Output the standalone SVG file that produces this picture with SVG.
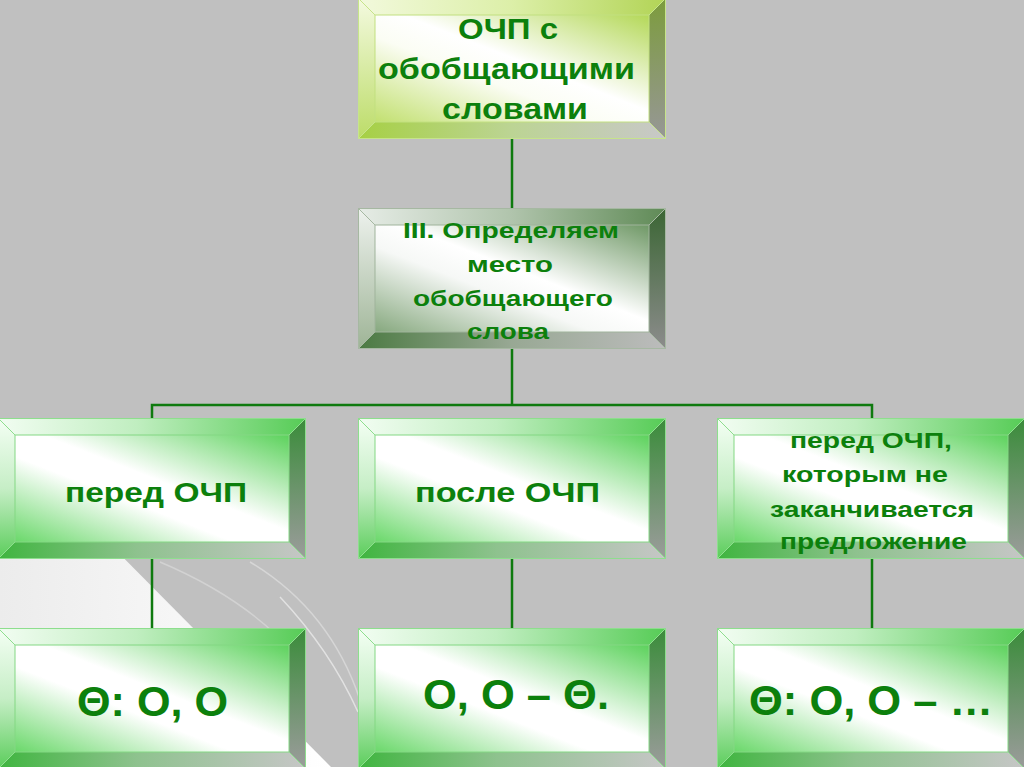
<svg xmlns="http://www.w3.org/2000/svg" xmlns:xlink="http://www.w3.org/1999/xlink" width="1024" height="767" viewBox="0 0 1024 767">
<style>
  .t { font-family: "Liberation Sans", Arial, sans-serif; font-weight: bold; fill: #0c800c; }
  .conn { stroke: #0f7a0f; stroke-width: 2.5; fill: none; }
</style>
<defs>
  <!-- green theme -->
  <linearGradient id="gT" x1="0" y1="0" x2="1" y2="0"><stop offset="0" stop-color="#f2fdf2"/><stop offset="0.45" stop-color="#c0eec0"/><stop offset="1" stop-color="#56cc56"/></linearGradient>
  <linearGradient id="gL" x1="0" y1="0" x2="0" y2="1"><stop offset="0" stop-color="#f4fff4"/><stop offset="0.5" stop-color="#c6eec6"/><stop offset="1" stop-color="#5acd5a"/></linearGradient>
  <linearGradient id="gR" x1="0" y1="0" x2="0" y2="1"><stop offset="0" stop-color="#3a8c3a"/><stop offset="1" stop-color="#9c9c9c"/></linearGradient>
  <linearGradient id="gB" x1="0" y1="0" x2="1" y2="0"><stop offset="0" stop-color="#3fb53f"/><stop offset="0.45" stop-color="#8ec28e"/><stop offset="1" stop-color="#c6c6c6"/></linearGradient>
  <linearGradient id="gF" x1="1" y1="0" x2="0" y2="1"><stop offset="0" stop-color="#5cd25c"/><stop offset="0.45" stop-color="#ffffff"/><stop offset="0.6" stop-color="#ffffff"/><stop offset="1" stop-color="#6ad86a"/></linearGradient>
  <!-- yellow-green theme -->
  <linearGradient id="yT" x1="0" y1="0" x2="1" y2="0"><stop offset="0" stop-color="#f2f9dc"/><stop offset="0.5" stop-color="#dcefa8"/><stop offset="1" stop-color="#b2d456"/></linearGradient>
  <linearGradient id="yL" x1="0" y1="0" x2="0" y2="1"><stop offset="0" stop-color="#f4fae0"/><stop offset="1" stop-color="#bcdc68"/></linearGradient>
  <linearGradient id="yR" x1="0" y1="0" x2="0" y2="1"><stop offset="0" stop-color="#7c9c3c"/><stop offset="1" stop-color="#979797"/></linearGradient>
  <linearGradient id="yB" x1="0" y1="0" x2="1" y2="0"><stop offset="0" stop-color="#a6d044"/><stop offset="0.5" stop-color="#bcd494"/><stop offset="1" stop-color="#c8c8c8"/></linearGradient>
  <linearGradient id="yF" x1="1" y1="0" x2="0" y2="1"><stop offset="0" stop-color="#b4d858"/><stop offset="0.45" stop-color="#ffffff"/><stop offset="0.6" stop-color="#fbfdf4"/><stop offset="1" stop-color="#c2e070"/></linearGradient>
  <!-- grey-green theme -->
  <linearGradient id="sT" x1="0" y1="0" x2="1" y2="0"><stop offset="0" stop-color="#e6ece6"/><stop offset="0.5" stop-color="#b0c4ac"/><stop offset="1" stop-color="#5f8a56"/></linearGradient>
  <linearGradient id="sL" x1="0" y1="0" x2="0" y2="1"><stop offset="0" stop-color="#eef2ee"/><stop offset="1" stop-color="#9eb496"/></linearGradient>
  <linearGradient id="sR" x1="0" y1="0" x2="0" y2="1"><stop offset="0" stop-color="#3b6634"/><stop offset="1" stop-color="#8c8c8c"/></linearGradient>
  <linearGradient id="sB" x1="0" y1="0" x2="1" y2="0"><stop offset="0" stop-color="#4b7a42"/><stop offset="0.5" stop-color="#98a894"/><stop offset="1" stop-color="#bcbcbc"/></linearGradient>
  <linearGradient id="sF" x1="1" y1="0" x2="0" y2="1"><stop offset="0" stop-color="#6f9866"/><stop offset="0.45" stop-color="#ffffff"/><stop offset="0.6" stop-color="#f6f8f6"/><stop offset="1" stop-color="#86a87e"/></linearGradient>

  <g id="boxG">
    <polygon points="0,0 308,0 291,17 17,17" fill="url(#gT)"/>
    <polygon points="0,0 17,17 17,124 0,141" fill="url(#gL)"/>
    <polygon points="308,0 308,141 291,124 291,17" fill="url(#gR)"/>
    <polygon points="0,141 17,124 291,124 308,141" fill="url(#gB)"/>
    <rect x="17" y="17" width="274" height="107" fill="url(#gF)"/>
    <rect x="0.5" y="0.5" width="307" height="140" fill="none" stroke="#8ede8e" stroke-width="1"/>
    <rect x="17" y="17" width="274" height="107" fill="none" stroke="#84d884" stroke-width="1"/>
    <path d="M0.5,0.5 L17,17 M307.5,0.5 L291,17 M0.5,140.5 L17,124 M307.5,140.5 L291,124" stroke="#8ede8e" stroke-width="1"/>
  </g>
  <g id="boxY">
    <polygon points="0,0 308,0 291,17 17,17" fill="url(#yT)"/>
    <polygon points="0,0 17,17 17,124 0,141" fill="url(#yL)"/>
    <polygon points="308,0 308,141 291,124 291,17" fill="url(#yR)"/>
    <polygon points="0,141 17,124 291,124 308,141" fill="url(#yB)"/>
    <rect x="17" y="17" width="274" height="107" fill="url(#yF)"/>
    <rect x="0.5" y="0.5" width="307" height="140" fill="none" stroke="#c6e48a" stroke-width="1"/>
    <rect x="17" y="17" width="274" height="107" fill="none" stroke="#c2e080" stroke-width="1"/>
    <path d="M0.5,0.5 L17,17 M307.5,0.5 L291,17 M0.5,140.5 L17,124 M307.5,140.5 L291,124" stroke="#c6e48a" stroke-width="1"/>
  </g>
  <g id="boxS">
    <polygon points="0,0 308,0 291,17 17,17" fill="url(#sT)"/>
    <polygon points="0,0 17,17 17,124 0,141" fill="url(#sL)"/>
    <polygon points="308,0 308,141 291,124 291,17" fill="url(#sR)"/>
    <polygon points="0,141 17,124 291,124 308,141" fill="url(#sB)"/>
    <rect x="17" y="17" width="274" height="107" fill="url(#sF)"/>
    <rect x="0.5" y="0.5" width="307" height="140" fill="none" stroke="#a6b8a2" stroke-width="1"/>
    <rect x="17" y="17" width="274" height="107" fill="none" stroke="#a0b49c" stroke-width="1"/>
    <path d="M0.5,0.5 L17,17 M307.5,0.5 L291,17 M0.5,140.5 L17,124 M307.5,140.5 L291,124" stroke="#a6b8a2" stroke-width="1"/>
  </g>
  <linearGradient id="bgW" x1="0" y1="0" x2="1" y2="0"><stop offset="0" stop-color="#ececec"/><stop offset="1" stop-color="#ffffff"/></linearGradient>
</defs>

<!-- background -->
<rect x="0" y="0" width="1024" height="767" fill="#c0c0c0"/>
<polygon points="0,520 86,520 331,767 0,767" fill="url(#bgW)"/>
<path d="M160,562 Q250,600 300,660" stroke="#d2d2d2" stroke-width="1.5" fill="none"/>
<path d="M250,562 Q330,610 360,700" stroke="#d6d6d6" stroke-width="1.5" fill="none"/>
<path d="M280,597 Q330,650 358,712" stroke="#e2e2e2" stroke-width="1.5" fill="none"/>

<!-- connectors -->
<g id="connectors">
  <path class="conn" d="M512,138 V208"/>
  <path class="conn" d="M512,348 V405"/>
  <path class="conn" d="M152,418 V405 H872 V418"/>
  <path class="conn" d="M152,559 V628"/>
  <path class="conn" d="M512,559 V628"/>
  <path class="conn" d="M872,559 V628"/>
</g>

<g id="node-top">
  <use xlink:href="#boxY" href="#boxY" x="358" y="-2"/>
  <text class="t" font-size="29" x="458" y="39" textLength="100" lengthAdjust="spacingAndGlyphs">ОЧП с</text>
  <text class="t" font-size="29" x="378" y="79" textLength="257" lengthAdjust="spacingAndGlyphs">обобщающими</text>
  <text class="t" font-size="29" x="442" y="119" textLength="146" lengthAdjust="spacingAndGlyphs">словами</text>
</g>

<g id="node-mid">
  <use xlink:href="#boxS" href="#boxS" x="358" y="208"/>
  <text class="t" font-size="22" x="403" y="238" textLength="216" lengthAdjust="spacingAndGlyphs">III. Определяем</text>
  <text class="t" font-size="22" x="467" y="272" textLength="86" lengthAdjust="spacingAndGlyphs">место</text>
  <text class="t" font-size="22" x="413" y="306" textLength="200" lengthAdjust="spacingAndGlyphs">обобщающего</text>
  <text class="t" font-size="22" x="467" y="339" textLength="82" lengthAdjust="spacingAndGlyphs">слова</text>
</g>

<g id="node-before">
  <use xlink:href="#boxG" href="#boxG" x="-2" y="418"/>
  <text class="t" font-size="28" x="65" y="502" textLength="182" lengthAdjust="spacingAndGlyphs">перед ОЧП</text>
</g>

<g id="node-after">
  <use xlink:href="#boxG" href="#boxG" x="358" y="418"/>
  <text class="t" font-size="28" x="415" y="502" textLength="185" lengthAdjust="spacingAndGlyphs">после ОЧП</text>
</g>

<g id="node-before-not-end">
  <use xlink:href="#boxG" href="#boxG" x="717" y="418"/>
  <text class="t" font-size="22" x="790" y="448" textLength="162" lengthAdjust="spacingAndGlyphs">перед ОЧП,</text>
  <text class="t" font-size="22" x="782" y="482" textLength="166" lengthAdjust="spacingAndGlyphs">которым не</text>
  <text class="t" font-size="22" x="770" y="517" textLength="204" lengthAdjust="spacingAndGlyphs">заканчивается</text>
  <text class="t" font-size="22" x="780" y="549" textLength="187" lengthAdjust="spacingAndGlyphs">предложение</text>
</g>

<g id="node-scheme1">
  <use xlink:href="#boxG" href="#boxG" x="-2" y="628"/>
  <text class="t" font-size="42" x="77" y="716" textLength="151" lengthAdjust="spacingAndGlyphs">Θ: О, О</text>
</g>

<g id="node-scheme2">
  <use xlink:href="#boxG" href="#boxG" x="358" y="628"/>
  <text class="t" font-size="42" x="423" y="709" textLength="186" lengthAdjust="spacingAndGlyphs">О, О – Θ.</text>
</g>

<g id="node-scheme3">
  <use xlink:href="#boxG" href="#boxG" x="717" y="628"/>
  <text class="t" font-size="42" x="749" y="715" textLength="244" lengthAdjust="spacingAndGlyphs">Θ: О, О – …</text>
</g>
</svg>
